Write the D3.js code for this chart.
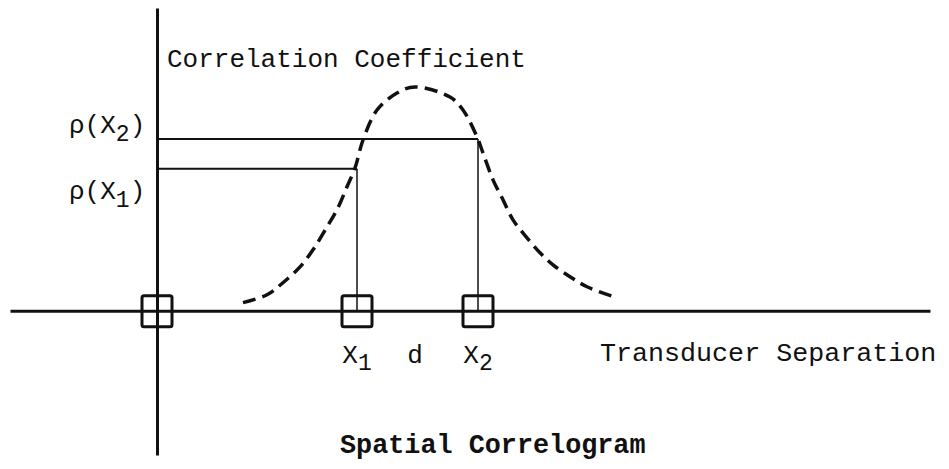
<!DOCTYPE html>
<html>
<head>
<meta charset="utf-8">
<script src="https://cdn.jsdelivr.net/npm/d3@7"></script>
<style>
  body { margin: 0; background: #fff; }
  text { font-family: "Liberation Mono", "DejaVu Sans Mono", monospace; fill: #111; }
</style>
</head>
<body>
<div id="chart"></div>
<script>
// Correlation curve (separation, coefficient)
var curveX = [0.86, 1.10, 1.26, 1.43, 1.56, 1.70, 1.80, 1.90, 1.98, 2.06, 2.20, 2.40, 2.58, 2.93, 3.06, 3.20, 3.26, 3.36, 3.46, 3.56, 3.70, 3.83, 3.96, 4.13, 4.30, 4.60];
var curveY = [0.036, 0.071, 0.125, 0.196, 0.272, 0.375, 0.451, 0.554, 0.638, 0.763, 0.897, 0.973, 1.0, 0.955, 0.897, 0.777, 0.705, 0.585, 0.496, 0.406, 0.326, 0.259, 0.205, 0.152, 0.107, 0.058];

// Transducer positions and their coefficients
var transducerX = [0, 2.0, 3.21];
var rhoX = [2.0, 3.21];
var rhoY = [0.634, 0.768];

// Tick labels (main text + subscript)
var xTickValues = [2.0, 2.58, 3.21];
var xTickMain = ["X", "d", "X"];
var xTickSub = ["1", "", "2"];
var yTickMain = ["\u03c1(X", "\u03c1(X"];
var yTickSub = ["1", "2"];

var width = 949, height = 469;

var svg = d3.select("#chart")
    .append("svg")
    .attr("width", width)
    .attr("height", height);

var xScale = d3.scaleLinear().domain([-1.47, 7.73]).range([10, 930]);
var yScale = d3.scaleLinear().domain([-0.645, 1.353]).range([455, 8]);

// Axes: plain lines without ticks
svg.append("g")
    .attr("transform", "translate(0," + yScale(0) + ")")
    .call(d3.axisBottom(xScale).tickValues([]).tickSizeOuter(0))
    .select(".domain").attr("stroke", "#111").attr("stroke-width", 3);

svg.append("g")
    .attr("transform", "translate(" + xScale(0) + ",0)")
    .call(d3.axisLeft(yScale).tickValues([]).tickSizeOuter(0))
    .select(".domain").attr("stroke", "#111").attr("stroke-width", 3);

// Horizontal lines from the axis to the curve
svg.selectAll(".rho-h")
    .data(rhoX)
    .enter()
    .append("line")
    .attr("x1", xScale(0))
    .attr("x2", function(d) { return xScale(d); })
    .attr("y1", function(d, i) { return yScale(rhoY[i]); })
    .attr("y2", function(d, i) { return yScale(rhoY[i]); })
    .attr("stroke", "#111")
    .attr("stroke-width", 2);

// Vertical drops to the transducer positions
svg.selectAll(".rho-v")
    .data(rhoX)
    .enter()
    .append("line")
    .attr("x1", function(d) { return xScale(d); })
    .attr("x2", function(d) { return xScale(d); })
    .attr("y1", function(d, i) { return yScale(rhoY[i]); })
    .attr("y2", yScale(0))
    .attr("stroke", "#111")
    .attr("stroke-width", 1.5);

// Transducer boxes on the axis
svg.selectAll(".box")
    .data(transducerX)
    .enter()
    .append("rect")
    .attr("x", function(d) { return xScale(d) - 15; })
    .attr("y", yScale(0) - 15)
    .attr("width", 30)
    .attr("height", 31)
    .attr("rx", 2)
    .attr("fill", "none")
    .attr("stroke", "#111")
    .attr("stroke-width", 3);

// Dashed correlation curve
var line = d3.line()
    .x(function(d, i) { return xScale(curveX[i]); })
    .y(function(d) { return yScale(d); })
    .curve(d3.curveCatmullRom);

svg.append("path")
    .datum(curveY)
    .attr("d", line)
    .attr("fill", "none")
    .attr("stroke", "#111")
    .attr("stroke-width", 3.5)
    .attr("stroke-dasharray", "13,7");

// X tick labels with subscripts
var xLabels = svg.selectAll(".xlab")
    .data(xTickValues)
    .enter()
    .append("text")
    .attr("x", function(d) { return xScale(d); })
    .attr("y", 363)
    .attr("text-anchor", "middle")
    .style("font-size", "26px");
xLabels.append("tspan").text(function(d, i) { return xTickMain[i]; });
xLabels.append("tspan")
    .attr("dy", 7)
    .style("font-size", "23px")
    .text(function(d, i) { return xTickSub[i]; });

// Y labels rho(X1), rho(X2)
var yLabelBase = [199, 133];
var yLabels = svg.selectAll(".ylab")
    .data(yTickMain)
    .enter()
    .append("text")
    .attr("x", 69)
    .attr("y", function(d, i) { return yLabelBase[i]; })
    .style("font-size", "26px");
yLabels.append("tspan").text(function(d) { return d; });
yLabels.append("tspan")
    .attr("dy", 8)
    .style("font-size", "23px")
    .text(function(d, i) { return yTickSub[i]; });
yLabels.append("tspan")
    .attr("dy", -8)
    .text(")");

// Axis titles
svg.append("text")
    .attr("x", 167)
    .attr("y", 67)
    .style("font-size", "26px")
    .text("Correlation Coefficient");

svg.append("text")
    .attr("x", 600)
    .attr("y", 361)
    .style("font-size", "26.7px")
    .text("Transducer Separation");

svg.append("text")
    .attr("x", 340)
    .attr("y", 453)
    .style("font-size", "26.8px")
    .style("font-weight", "bold")
    .text("Spatial Correlogram");
</script>
</body>
</html>
